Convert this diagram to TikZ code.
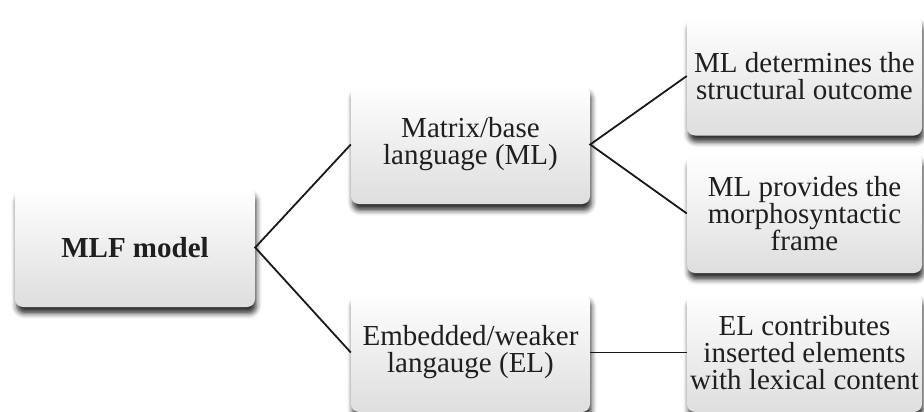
\documentclass[tikz,border=0pt]{standalone}
\usepackage{fontspec}
\setmainfont{Liberation Serif}
\usetikzlibrary{shadows.blur}
\begin{document}
\begin{tikzpicture}[x=1pt,y=-1pt,
	box/.style={rounded corners=8pt,top color=white,bottom color=black!13,
		minimum width=238pt,minimum height=119pt,inner sep=2pt,align=center,
		text=black!88,font=\fontsize{29}{27}\selectfont,
		blur shadow={shadow xshift=1.5pt,shadow yshift=-6.5pt,shadow blur radius=5pt,shadow opacity=80}},
	link/.style={line width=1.8pt,black!90}]
	\useasboundingbox (0,0) rectangle (924,412);

	\node[box,minimum width=240pt] (mlf) at (135,247.5) {\textbf{MLF model}};
	\node[box,minimum width=239pt] (matrix) at (470.5,144.5) {Matrix/base\\language (ML)};
	\node[box,minimum width=239pt] (embedded) at (470.5,352.5) {Embedded/weaker\\langauge (EL)};
	\node[box,minimum width=235pt] (determines) at (804.5,76) {ML determines the\\structural outcome};
	\node[box,minimum width=235pt] (provides) at (804.5,213.5) {ML provides the\\morphosyntactic\\frame};
	\node[box,minimum width=235pt] (contributes) at (804.5,352.5) {EL contributes\\inserted elements\\with lexical content};

	\draw[link] (matrix.west) -- (mlf.east) -- (embedded.west);
	\draw[link] (determines.west) -- (matrix.east) -- (provides.west);
	\draw[link] (embedded.east) -- (contributes.west);
\end{tikzpicture}
\end{document}
